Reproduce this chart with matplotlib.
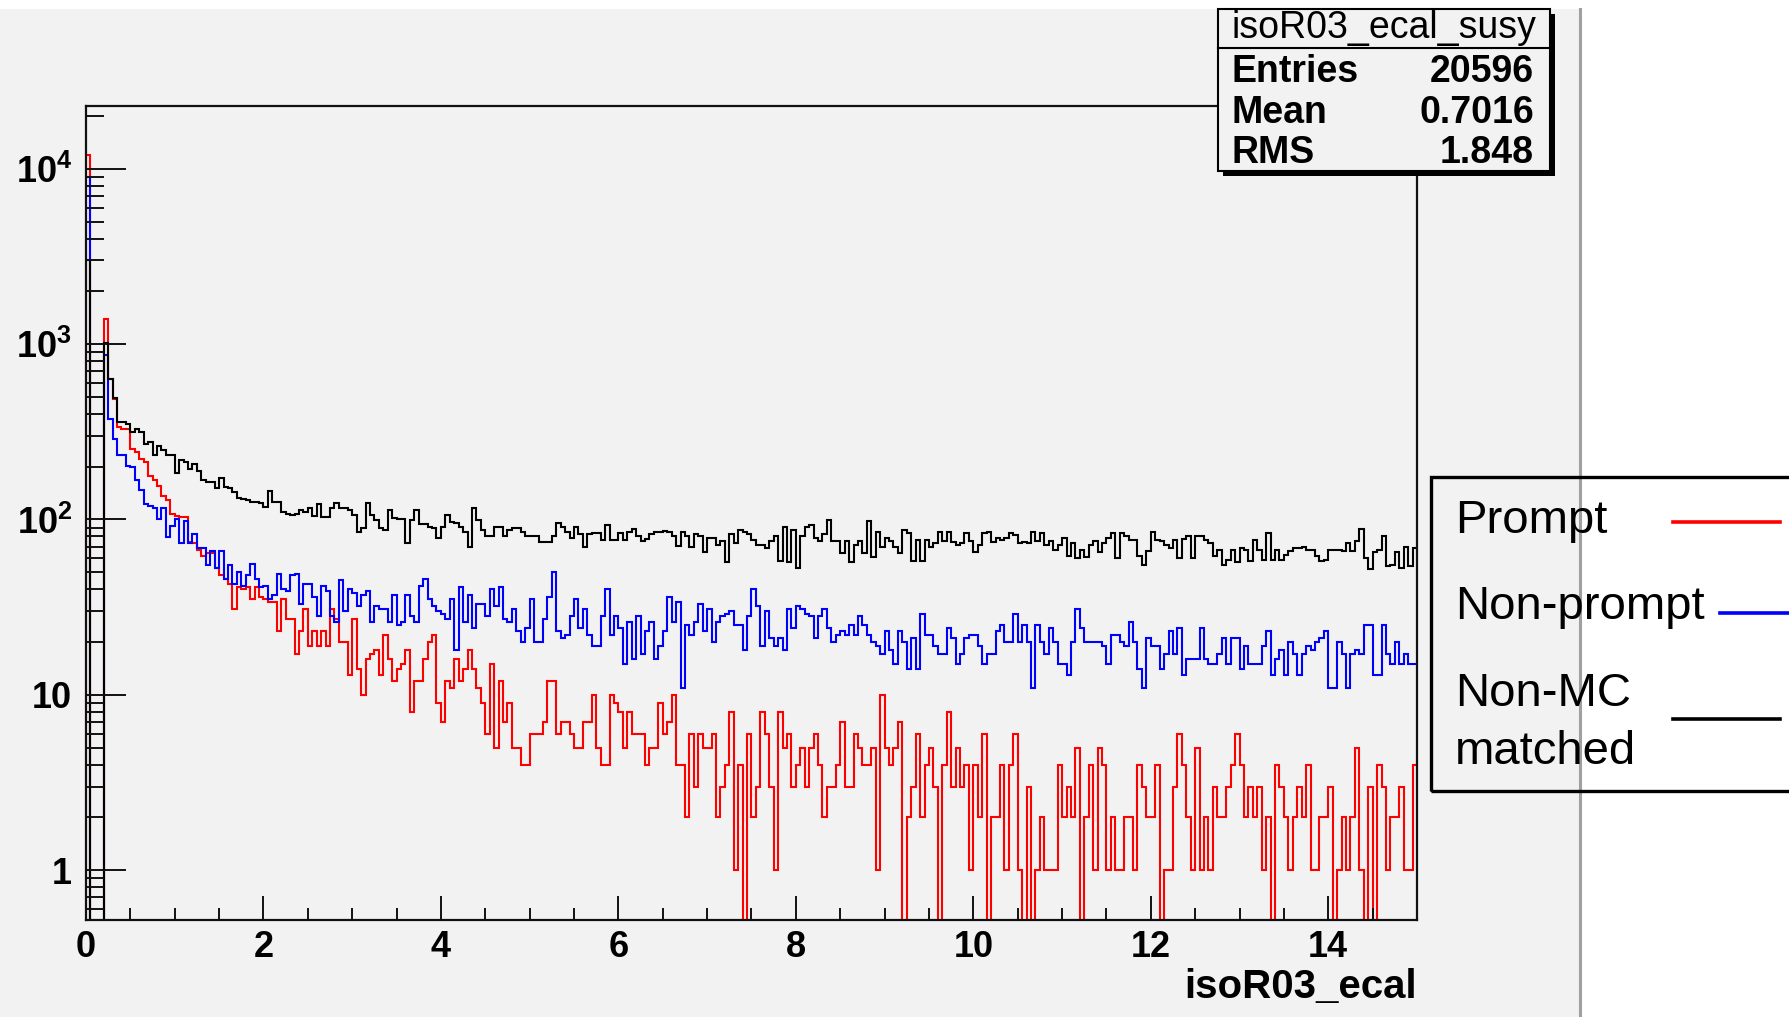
import numpy as np
import matplotlib
matplotlib.use('Agg')
import matplotlib.pyplot as plt
from matplotlib.patches import Rectangle
from matplotlib.lines import Line2D
from matplotlib.ticker import FixedLocator, FixedFormatter, MultipleLocator, LogLocator, NullFormatter

plt.rcParams['font.family'] = ['Liberation Sans', 'DejaVu Sans']
plt.rcParams['mathtext.fontset'] = 'custom'
plt.rcParams['mathtext.rm'] = 'Liberation Sans'
plt.rcParams['mathtext.bf'] = 'Liberation Sans:bold'

# ---------------- data ----------------
x_min, x_max, n_bins = 0.0, 15.0, 300

prompt = [12000, 0, 0, 0, 1390, 630, 484, 335, 326, 326,
          251, 244, 220, 214, 178, 169, 156, 137, 130, 108,
          105, 103, 103, 74, 73, 67, 62, 64, 64, 53,
          48, 46, 43, 31, 41, 40, 41, 35, 41, 36,
          35, 34, 34, 23, 35, 27, 27, 17, 23, 31,
          19, 23, 19, 23, 19, 31,
          27, 20, 20, 13, 27, 14, 10, 16, 17, 18, 13, 22, 16, 12, 14, 15, 18, 8, 12, 12,
          16, 20, 22, 9, 7, 12, 11, 16, 12, 14, 18, 14, 11, 9, 6, 15, 5, 12, 7, 9,
          5, 5, 4, 4, 6, 6, 6, 7, 12, 12, 6, 7, 7, 6, 5,
          5, 7, 7, 10, 5, 4, 4, 10, 9, 8, 5, 8, 6, 6, 6, 4, 5, 5, 9, 6,
          7, 10, 4, 4, 2, 6, 3, 6, 5, 5, 6, 2, 3, 4, 8, 1, 4, 0, 6, 2,
          3, 8, 6, 3, 1, 8, 5, 6, 3, 4, 5, 3, 5, 6, 4, 2, 3, 3, 4,
          7,
          3, 3, 6, 5, 4, 4, 5, 1, 10, 5, 4, 5, 7, 0, 2, 3, 6, 2, 4, 5,
          3, 0, 4, 8, 3, 5, 3, 4, 1, 4, 2, 6, 0, 2, 2, 4, 1, 4, 6, 1,
          0, 3, 0, 1, 2, 1, 1, 1, 4, 2, 3, 2, 5, 0, 2, 4, 1, 5, 4,
          1,
          2, 1, 1, 2, 2, 1, 4, 3, 2, 2, 4, 0, 1, 1, 3, 6, 4, 2, 1, 5,
          1, 2, 1, 3, 2, 2, 3, 4, 6, 4, 2, 3, 2, 3, 1, 2, 0, 4, 3, 2,
          1, 2, 3, 2, 4, 1, 1, 2, 2, 3, 0, 1, 2, 1, 2, 5, 1, 0, 3, 0,
          4, 3, 1, 2, 2, 3, 1, 1, 4]

nonprompt = [9000, 0, 0, 0, 863, 372, 286, 234, 234, 203,
             198, 169, 148, 123, 120, 117, 100, 116, 79, 92,
             100, 73, 98, 73, 83, 69, 69, 55, 66, 53,
             66, 46, 55, 43, 50, 42, 48, 56, 46, 41,
             42, 35, 37, 49, 40, 39, 48, 49, 33, 43,
             43, 36, 28, 42, 39, 28,
             26, 45, 30, 40, 38, 32, 37, 39, 26, 32, 31, 31, 26, 37, 25, 26, 37, 28, 26, 42,
             46, 35, 32, 30, 29, 27, 35, 18, 41, 26, 37, 24, 33, 33, 28, 40, 32, 41, 27, 26,
             31, 23, 20, 24, 35, 20, 20, 27, 36, 50, 23, 21, 22, 28, 35,
             24, 31, 22, 19, 19, 28, 40, 22, 28, 24, 15, 26, 16, 28, 17, 23, 26, 16, 19, 23,
             36, 26, 34, 11, 25, 22, 26, 33, 23, 31, 20, 26, 28, 29, 30, 25, 25, 18, 28, 40,
             32, 19, 30, 21, 19, 21, 18, 31, 24, 32, 31, 29, 28, 21, 28, 31, 24, 20, 22,
             23,
             22, 25, 22, 28, 25, 22, 20, 19, 17, 23, 18, 15, 23, 20, 14, 21, 14, 29, 22, 22,
             19, 17, 17, 24, 21, 15, 17, 21, 22, 22, 19, 15, 17, 17, 23, 25, 20, 20, 29, 20,
             25, 20, 11, 25, 20, 17, 24, 20, 15, 15, 13, 20, 31, 24, 20, 20, 20, 20, 19,
             15,
             22, 22, 20, 19, 26, 20, 14, 11, 21, 19, 19, 14, 17, 23, 17, 24, 13, 16, 16, 16,
             24, 16, 15, 15, 17, 21, 15, 21, 21, 14, 19, 15, 15, 15, 19, 23, 13, 16, 18, 13,
             20, 17, 13, 17, 19, 18, 20, 21, 23, 11, 11, 20, 17, 11, 17, 18, 17, 25, 25, 13,
             13, 25, 17, 15, 20, 15, 17, 15, 15]

nonmc = [3000, 0, 0, 0, 1010, 629, 496, 362, 358, 352,
         317, 326, 317, 271, 278, 232, 264, 250, 234, 232,
         183, 219, 214, 193, 208, 188, 169, 164, 164, 152,
         173, 154, 152, 144, 133, 131, 130, 126, 126, 124,
         118, 146, 126, 126, 111, 108, 106, 108, 114, 110,
         116, 105, 122, 103, 103, 116,
         124, 116, 116, 113, 106, 85, 89, 124, 106, 99, 89, 87, 113, 102, 100, 100, 73, 99, 113, 94,
         94, 91, 90, 78, 91, 106, 97, 95, 91, 85, 70, 116, 99, 87, 80, 80, 91, 91, 81, 87,
         89, 89, 85, 80, 80, 80, 74, 74, 74, 81, 95, 91, 85, 78, 91,
         83, 70, 83, 84, 84, 76, 93, 76, 76, 84, 76, 85, 88, 80, 75, 77, 83, 85, 85, 86,
         85, 81, 71, 85, 80, 70, 83, 80, 65, 78, 78, 72, 75, 57, 83, 73, 87, 85, 83, 76,
         72, 72, 69, 75, 80, 58, 91, 57, 87, 53, 81, 91, 93, 78, 75, 83, 99, 75, 75,
         64,
         75, 57, 72, 75, 64, 98, 61, 85, 70, 78, 75, 70, 64, 87, 84, 58, 76, 58, 76, 70,
         73, 85, 75, 85, 74, 72, 73, 84, 75, 65, 72, 84, 85, 74, 78, 76, 78, 84, 82, 73,
         74, 73, 85, 75, 84, 72, 75, 67, 72, 78, 62, 73, 60, 67, 61, 72, 75, 65, 73,
         78,
         84, 60, 84, 81, 76, 76, 62, 55, 66, 85, 76, 75, 72, 69, 76, 60, 77, 81, 60, 81,
         81, 76, 73, 62, 67, 55, 59, 67, 57, 69, 67, 58, 76, 67, 59, 84, 59, 67, 59, 63,
         66, 69, 69, 70, 67, 67, 62, 58, 59, 67, 67, 67, 66, 73, 66, 75, 88, 60, 52, 65,
         67, 81, 54, 55, 65, 53, 70, 54, 69]

series_names = ['Prompt', 'Non-prompt', 'Non-MC\nmatched']
series_colors = ['#ff0000', '#0000ff', '#000000']

y_tick_values = [1, 10, 100, 1000, 10000]
y_tick_labels = ['1', '10', r'$\mathbf{10^{2}}$', r'$\mathbf{10^{3}}$', r'$\mathbf{10^{4}}$']
x_tick_values = [0, 2, 4, 6, 8, 10, 12, 14]

stats_title = 'isoR03_ecal_susy'
stats_rows = [('Entries', '20596'), ('Mean', '0.7016'), ('RMS', '1.848')]
x_title = 'isoR03_ecal'

# ---------------- figure ----------------
W, H = 1790, 1017
fig = plt.figure(figsize=(W / 100, H / 100), dpi=100)
fig.patch.set_facecolor('white')

def fx(px):
    return px / W

def fy(py):
    return 1 - py / H

canvas_gray = '#f2f2f2'
fig.add_artist(Rectangle((0, 0), fx(1580), fy(9), transform=fig.transFigure,
                         facecolor=canvas_gray, edgecolor='none', zorder=0))
fig.add_artist(Line2D([fx(1580), fx(1580)], [0, fy(9)], transform=fig.transFigure,
                      color='#a0a0a0', lw=2.2, zorder=1))

ax = fig.add_axes([fx(86), fy(920), fx(1417) - fx(86), fy(106) - fy(920)])
ax.set_facecolor('none')
ax.set_zorder(2)

edges = np.linspace(x_min, x_max, n_bins + 1)
for vals, col in zip([prompt, nonprompt, nonmc], series_colors):
    v = np.asarray(vals, dtype=float)
    v = np.where(v > 0, v, 1e-3)
    ax.stairs(v, edges, baseline=None, color=col, lw=1.5)

ax.set_yscale('log')
ax.set_xlim(x_min, x_max)
ax.set_ylim(0.52, 2.28e4)

ax.xaxis.set_major_locator(FixedLocator(x_tick_values))
ax.xaxis.set_minor_locator(MultipleLocator(0.5))
ax.yaxis.set_major_locator(FixedLocator(y_tick_values))
ax.yaxis.set_major_formatter(FixedFormatter(y_tick_labels))
ax.yaxis.set_minor_locator(LogLocator(base=10, subs=np.arange(2, 10)))
ax.yaxis.set_minor_formatter(NullFormatter())

ax.tick_params(axis='y', which='major', direction='in', length=29, width=1.4,
               labelsize=26, pad=10, color='#111111')
ax.tick_params(axis='y', which='minor', direction='in', length=13, width=1.4, color='#111111')
ax.tick_params(axis='x', which='major', direction='in', length=17, width=1.4,
               labelsize=26, pad=7.5, color='#111111')
ax.tick_params(axis='x', which='minor', direction='in', length=8.6, width=1.4, color='#111111')
for lbl in ax.get_xticklabels() + ax.get_yticklabels():
    lbl.set_fontweight('bold')
for sp in ax.spines.values():
    sp.set_linewidth(1.6)
    sp.set_color('#111111')

ax.set_xlabel(x_title, fontsize=29, fontweight='bold')
ax.xaxis.set_label_coords(1.0, (920 - 987) / (920 - 106))
ax.xaxis.label.set_ha('right')
ax.xaxis.label.set_va('center')

# ---------------- stats box ----------------
bx0, bx1, by0, by1 = 1218, 1550, 9, 171
fig.add_artist(Rectangle((fx(bx0 + 5), fy(by1 + 5)), fx(bx1 - bx0), fy(by0) - fy(by1),
                         transform=fig.transFigure, facecolor='black', edgecolor='none', zorder=5))
fig.add_artist(Rectangle((fx(bx0), fy(by1)), fx(bx1 - bx0), fy(by0) - fy(by1),
                         transform=fig.transFigure, facecolor=canvas_gray, edgecolor='black',
                         lw=1.5, zorder=6))
fig.add_artist(Line2D([fx(bx0), fx(bx1)], [fy(48), fy(48)], transform=fig.transFigure,
                      color='black', lw=1.5, zorder=7))
fig.text(fx((bx0 + bx1) / 2), fy(28), stats_title, ha='center', va='center',
         fontsize=27, zorder=8)
for (lab, val), yy in zip(stats_rows, [72, 113, 153]):
    fig.text(fx(1232), fy(yy), lab, ha='left', va='center', fontsize=27,
             fontweight='bold', zorder=8)
    fig.text(fx(1534), fy(yy), val, ha='right', va='center', fontsize=27,
             fontweight='bold', zorder=8)

# ---------------- legend ----------------
fig.add_artist(Rectangle((fx(1431), fy(791)), fx(1800 - 1431), fy(477) - fy(791),
                         transform=fig.transFigure, facecolor='none', edgecolor='black',
                         lw=2.4, zorder=6))
legend_text_y = [521, 607, 723]
legend_line = [(1673, 1780, 522), (1720, 1800, 613), (1673, 1780, 719)]
for name, col, ty, (lx0, lx1, ly) in zip(series_names, series_colors, legend_text_y, legend_line):
    fig.text(fx(1455), fy(ty), name, ha='left', va='center', fontsize=34,
             linespacing=1.4, zorder=7)
    fig.add_artist(Line2D([fx(lx0), fx(lx1)], [fy(ly), fy(ly)], transform=fig.transFigure,
                          color=col, lw=2.6, zorder=7))

fig.savefig('out.png', dpi=100, facecolor=fig.get_facecolor())
